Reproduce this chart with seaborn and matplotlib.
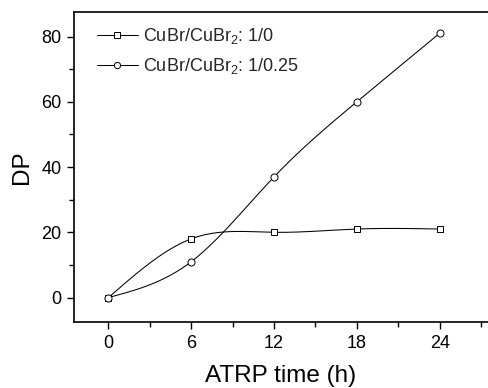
import numpy as np
import pandas as pd
import matplotlib
matplotlib.use("Agg")
import matplotlib.pyplot as plt
import seaborn as sns
from matplotlib.lines import Line2D

time_h = [0, 6, 12, 18, 24]
dp_ratio_1_0 = [0, 18, 20, 21, 21]
dp_ratio_1_025 = [0, 11, 37, 60, 81]
series_labels = ["CuBr/CuBr$_2$: 1/0", "CuBr/CuBr$_2$: 1/0.25"]
x_ticks = [0, 6, 12, 18, 24]
y_ticks = [0, 20, 40, 60, 80]


def natural_spline(x, y, n=300):
    x = np.asarray(x, float)
    y = np.asarray(y, float)
    k = len(x)
    h = np.diff(x)
    A = np.zeros((k, k))
    b = np.zeros(k)
    A[0, 0] = 1
    A[-1, -1] = 1
    for i in range(1, k - 1):
        A[i, i - 1] = h[i - 1]
        A[i, i] = 2 * (h[i - 1] + h[i])
        A[i, i + 1] = h[i]
        b[i] = 6 * ((y[i + 1] - y[i]) / h[i] - (y[i] - y[i - 1]) / h[i - 1])
    M = np.linalg.solve(A, b)
    xs = np.linspace(x[0], x[-1], n)
    ys = np.empty_like(xs)
    for j, xv in enumerate(xs):
        i = min(np.searchsorted(x, xv, side="right") - 1, k - 2)
        t1 = x[i + 1] - xv
        t0 = xv - x[i]
        ys[j] = (M[i] * t1 ** 3 + M[i + 1] * t0 ** 3) / (6 * h[i]) \
            + (y[i] / h[i] - M[i] * h[i] / 6) * t1 \
            + (y[i + 1] / h[i] - M[i + 1] * h[i] / 6) * t0
    return xs, ys


sns.set_theme(style="ticks")
plt.rcParams["font.family"] = ["Liberation Sans", "DejaVu Sans"]
plt.rcParams["mathtext.default"] = "regular"

fig = plt.figure(figsize=(4.88, 3.88), dpi=100)
ax = fig.add_axes([0.1516, 0.170, 0.8484, 0.799])

markers = ["s", "o"]
for data, m, lab in zip([dp_ratio_1_0, dp_ratio_1_025], markers, series_labels):
    xs, ys = natural_spline(time_h, data)
    sns.lineplot(x=xs, y=ys, ax=ax, color="black", linewidth=0.75, legend=False,
                 sort=False, estimator=None)
    sns.scatterplot(x=time_h, y=data, ax=ax, marker=m, s=26 if m == "o" else 22,
                    facecolor="white", edgecolor="black", linewidth=0.7,
                    legend=False, zorder=5)

handles = [Line2D([0], [0], color="black", linewidth=0.75, marker=m, markersize=4.5,
                  markerfacecolor="white", markeredgecolor="black",
                  markeredgewidth=0.7) for m in markers]
ax.legend(handles, series_labels, loc="upper left", frameon=False,
          fontsize=13, handlelength=2.3, handletextpad=0.25,
          bbox_to_anchor=(0.02, 1.0), labelspacing=0.55, borderaxespad=0.4)

ax.set_xlim(-2.5, 27.5)
ax.set_ylim(-7.5, 87.5)
ax.set_xticks(x_ticks)
ax.set_yticks(y_ticks)
ax.set_xticks([3, 9, 15, 21, 27], minor=True)
ax.set_yticks([10, 30, 50, 70], minor=True)
ax.tick_params(axis="both", which="major", direction="out", length=5, width=1,
               labelsize=13, color="black", labelcolor="black", pad=4)
ax.tick_params(axis="both", which="minor", direction="out", length=3.5, width=1,
               color="black")
ax.set_xlabel("ATRP time (h)", fontsize=17.5, color="black", labelpad=10)
ax.set_ylabel("DP", fontsize=17.5, color="black", labelpad=6)
for s in ["left", "bottom", "top"]:
    ax.spines[s].set_color("black")
    ax.spines[s].set_linewidth(1.2)
ax.spines["right"].set_visible(False)

fig.savefig("out.png", dpi=100)
